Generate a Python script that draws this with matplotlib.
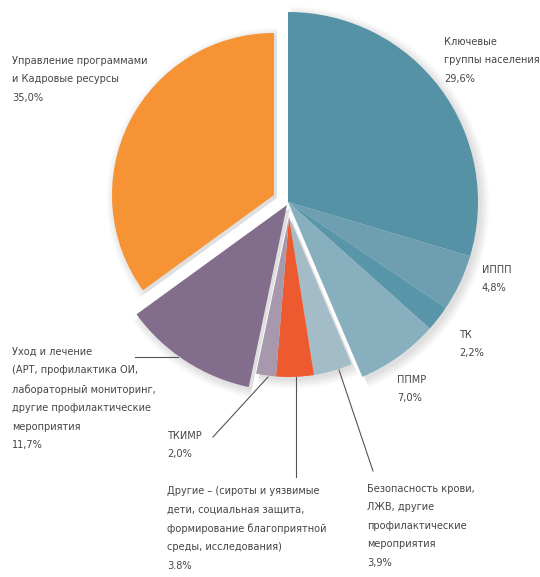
import matplotlib.pyplot as plt
from matplotlib.patches import Wedge

plt.rcParams['font.family'] = ['DejaVu Sans']
plt.rcParams['font.stretch'] = 'condensed'

# shares of the budget, clockwise from 12 o'clock
names = ['Ключевые\nгруппы населения', 'ИППП', 'ТК', 'ППМР',
         'Безопасность крови,\nЛЖВ, другие\nпрофилактические\nмероприятия',
         'Другие – (сироты и уязвимые\nдети, социальная защита,\nформирование благоприятной\nсреды, исследования)',
         'ТКИМР',
         'Уход и лечение\n(АРТ, профилактика ОИ,\nлабораторный мониторинг,\nдругие профилактические\nмероприятия',
         'Управление программами\nи Кадровые ресурсы']
values = [29.6, 4.8, 2.2, 7.0, 3.9, 3.8, 2.0, 11.7, 35.0]
pct_labels = ['29,6%', '4,8%', '2,2%', '7,0%', '3,9%', '3.8%', '2,0%', '11,7%', '35,0%']

colors = ['#5592a6', '#6d9fb1', '#5a96a9', '#88afbe', '#a3bcc8',
          '#ee5a2f', '#a898ae', '#826d8c', '#f59335']
# exploded groups: apex (pixels) and radius of each slice
centers = [(288, 202)] * 4 + [(289, 217)] * 3 + [(287, 205), (274, 195)]
radii = [190, 190, 190, 190, 160, 160, 160, 186, 162]

# label anchors (top-left of the text block) and leader lines
label_pos = [(444, 37), (482, 265), (459, 330), (397, 375), (367, 484),
             (167, 486), (167, 431), (12, 347), (12, 56)]
leaders = {4: [(339, 370), (373, 471)],
           5: [(296, 377), (296, 477)],
           6: [(268, 377), (213, 437)],
           7: [(135, 357), (178, 357)]}

fig = plt.figure(figsize=(5.4, 5.77), dpi=100)
ax = fig.add_axes([0, 0, 1, 1])

# y axis is flipped below, so start at -90 and run counterclockwise
wedges, _ = ax.pie(values, colors=colors, startangle=-90, counterclock=True,
                   wedgeprops=dict(linewidth=0))
for w, c, r in zip(wedges, centers, radii):
    w.set_center(c)
    w.set_radius(r)
    w.set_zorder(3)
    # soft drop shadow
    for k in range(8):
        ax.add_patch(Wedge((c[0] + 3, c[1] + 3), r + k * 1.2, w.theta1, w.theta2,
                           facecolor='black', alpha=0.016, linewidth=0, zorder=1))

for i, (x, y) in enumerate(label_pos):
    ax.text(x, y, names[i] + '\n' + pct_labels[i], ha='left', va='top',
            fontsize=7.8, color='#454545', linespacing=2.05)

for i, pts in leaders.items():
    ax.plot([pts[0][0], pts[1][0]], [pts[0][1], pts[1][1]], color='#555555',
            linewidth=0.8, zorder=4)

ax.set_xlim(0, 540)
ax.set_ylim(577, 0)
ax.set_aspect('equal')
ax.axis('off')

fig.savefig('out.png', dpi=100)
